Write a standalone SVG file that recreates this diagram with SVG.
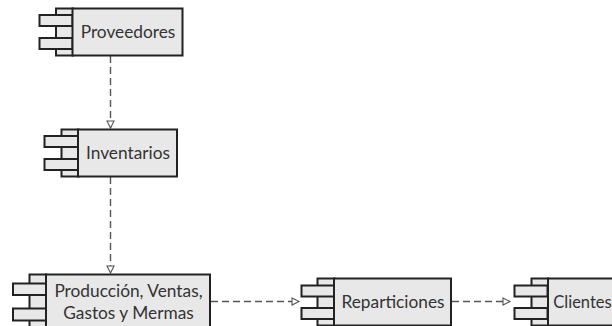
<svg xmlns="http://www.w3.org/2000/svg" width="612" height="326" viewBox="0 0 612 326">
<defs>
<marker id="tri" markerWidth="10" markerHeight="10" refX="8" refY="5" orient="auto" markerUnits="userSpaceOnUse"><path d="M1 1.500 L8 5 L1 8.500 Z" fill="#fff" stroke="#555" stroke-width="1.100"/></marker>
</defs>
<style>
.b{fill:#e8e8e8;stroke:#222;stroke-width:2}
.t{font-family:"Lato","Carlito",sans-serif;font-size:17.300px;fill:#333;text-anchor:middle}
.c{fill:none;stroke:#555;stroke-width:1.400;stroke-dasharray:7 4;marker-end:url(#tri)}
</style>
<rect width="612" height="326" fill="#fff"/>
<g id="connectors">
<path class="c" d="M110.500 56V128"/>
<path class="c" d="M110.500 177V273"/>
<path class="c" d="M211 301.500H299"/>
<path class="c" d="M452 301.500H510"/>
</g>
<g id="proveedores">
<rect class="b" x="56" y="8.500" width="17" height="47"/>
<rect class="b" x="39.500" y="15" width="33" height="11"/>
<rect class="b" x="39.500" y="38" width="33" height="11"/>
<rect class="b" x="72.500" y="8.500" width="110" height="47"/>
<text class="t" x="128" y="37.500">Proveedores</text>
</g>
<g id="inventarios">
<rect class="b" x="61.500" y="129.500" width="17" height="47"/>
<rect class="b" x="44.500" y="136" width="34" height="11"/>
<rect class="b" x="44.500" y="159" width="34" height="11"/>
<rect class="b" x="78" y="129.500" width="99" height="47"/>
<text class="t" x="128" y="158.500">Inventarios</text>
</g>
<g id="produccion">
<rect class="b" x="29.500" y="274.500" width="17" height="60"/>
<rect class="b" x="13" y="283.500" width="33" height="11.500"/>
<rect class="b" x="13" y="308.500" width="33" height="12"/>
<rect class="b" x="46" y="274.500" width="164" height="60"/>
<text class="t" x="128.500" y="296.500">Producción, Ventas,</text>
<text class="t" x="128.500" y="318.500">Gastos y Mermas</text>
</g>
<g id="reparticiones">
<rect class="b" x="317.500" y="278.500" width="17" height="47"/>
<rect class="b" x="301.500" y="285.500" width="33" height="11"/>
<rect class="b" x="301.500" y="308" width="33" height="11"/>
<rect class="b" x="334" y="278.500" width="117" height="47"/>
<text class="t" x="393" y="307.500">Reparticiones</text>
</g>
<g id="clientes">
<rect class="b" x="531.500" y="278.500" width="17" height="47"/>
<rect class="b" x="514.500" y="285.500" width="33" height="11"/>
<rect class="b" x="514.500" y="308" width="33" height="11"/>
<rect class="b" x="548" y="278.500" width="80" height="47"/>
<text class="t" x="582.500" y="307.500" style="font-size:16.500px">Clientes</text>
</g>
</svg>
